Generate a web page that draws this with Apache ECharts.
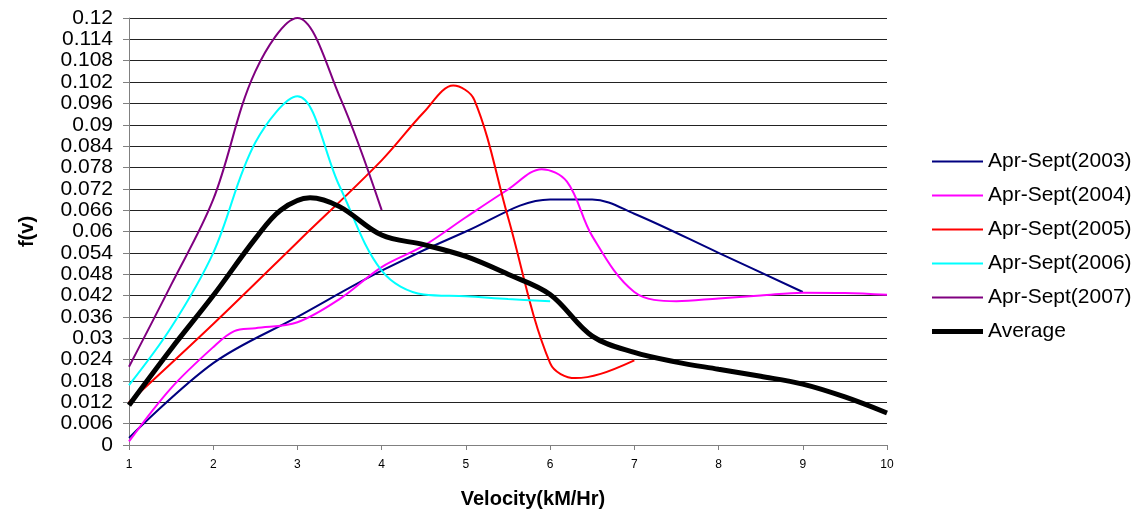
<!DOCTYPE html>
<html>
<head>
<meta charset="utf-8">
<script src="https://cdn.jsdelivr.net/npm/echarts@6/dist/echarts.min.js"></script>
<style>html,body{margin:0;padding:0;background:#fff;}#c{width:1143px;height:514px;}</style>
</head>
<body>
<div id="c"></div>
<script>
var seriesNames = ['Apr-Sept(2003)','Apr-Sept(2004)','Apr-Sept(2005)','Apr-Sept(2006)','Apr-Sept(2007)','Average'];
var colors = ['#000080','#FF00FF','#FF0000','#00FFFF','#800080','#000000'];
var widths = [2,2,2,2,2,5];

var data2003 = [[1,0.002],[2,0.023],[3,0.036],[4,0.049],[5,0.060],[6,0.069],[6.5,0.069],[7,0.065],[8,0.054],[9,0.043]];
var data2004 = [[1,0.001],[1.5,0.016],[2,0.0275],[2.25,0.032],[2.5,0.0328],[3,0.0345],[3.5,0.041],[4,0.050],[4.5,0.056],[5,0.064],[5.5,0.0718],[5.9,0.0775],[6.2,0.074],[6.5,0.0587],[7,0.043],[7.5,0.0404],[8,0.0412],[8.5,0.042],[9,0.0428],[9.5,0.0427],[10,0.0422]];
var data2005 = [[1,0.012],[2,0.034],[3,0.057],[4,0.080],[4.5,0.0935],[4.85,0.101],[5.1,0.097],[5.5,0.064],[6,0.023],[6.3,0.0188],[6.6,0.020],[7,0.0238]];
var data2006 = [[1,0.0168],[1.5,0.033],[2,0.054],[2.5,0.085],[3,0.098],[3.5,0.0727],[4,0.049],[4.5,0.0423],[5,0.0418],[5.5,0.041],[6,0.0404]];
var data2007 = [[1,0.022],[1.5,0.045],[2,0.069],[2.5,0.105],[3,0.120],[3.5,0.098],[4,0.066]];
var dataAvg = [[1,0.0112],[1.5,0.027],[2,0.042],[2.5,0.058],[2.8,0.066],[3.15,0.0695],[3.5,0.067],[4,0.059],[4.5,0.0563],[5,0.053],[5.5,0.048],[6,0.0423],[6.5,0.0306],[7,0.026],[7.5,0.0233],[8,0.0213],[8.5,0.0193],[9,0.0171],[9.5,0.0135],[10,0.009]];
var allData = [data2003,data2004,data2005,data2006,data2007,dataAvg];

var yMin = 0, yMax = 0.12, yStep = 0.006;
var xMin = 1, xMax = 10, xStep = 1;

var FONT = 'Liberation Sans, Arial, sans-serif';
var chart = echarts.init(document.getElementById('c'), null, {renderer:'canvas'});
var series = seriesNames.map(function(n,i){
  return {
    name:n, type:'line', data:allData[i], smooth:0.35, showSymbol:false, symbol:'none',
    lineStyle:{color:colors[i], width:widths[i]}, itemStyle:{color:colors[i]},
    z: i===5 ? 3 : 2, animation:false
  };
});
chart.setOption({
  animation:false,
  textStyle:{fontFamily:FONT},
  grid:{left:129, right:256, top:18, bottom:69, containLabel:false},
  legend:{
    orient:'vertical', left:932, top:151, padding:0, itemWidth:51, itemHeight:14, itemGap:13,
    symbolKeepAspect:true,
    textStyle:{fontSize:21, color:'#000', fontFamily:FONT},
    data:seriesNames.map(function(n,i){
      return {name:n, icon:'path://M0,0L51,0L51,' + widths[i] + 'L0,' + widths[i] + 'Z', itemStyle:{color:colors[i]}};
    })
  },
  xAxis:{
    type:'value', min:xMin, max:xMax, interval:xStep,
    name:'Velocity(kM/Hr)', nameLocation:'middle', nameGap:44,
    nameTextStyle:{fontSize:20, fontWeight:'bold', color:'#000', fontFamily:FONT, padding:[0,0,0,50]},
    axisLine:{lineStyle:{color:'#808080', width:1}},
    axisTick:{show:true, length:5, lineStyle:{color:'#808080'}},
    axisLabel:{fontSize:12, color:'#000', margin:14},
    splitLine:{show:false}
  },
  yAxis:{
    type:'value', min:yMin, max:yMax, interval:yStep,
    name:'f(v)', nameLocation:'middle', nameGap:92, nameRotate:90,
    nameTextStyle:{fontSize:20, fontWeight:'bold', color:'#000', fontFamily:FONT},
    axisLine:{show:true, lineStyle:{color:'#808080', width:1}},
    axisTick:{show:true, length:6, lineStyle:{color:'#808080'}},
    axisLabel:{fontSize:21, color:'#000', margin:16, formatter:function(v){return String(parseFloat(v.toFixed(3)));}},
    splitLine:{show:true, lineStyle:{color:'#222', width:1}}
  },
  series:series
});
</script>
</body>
</html>
